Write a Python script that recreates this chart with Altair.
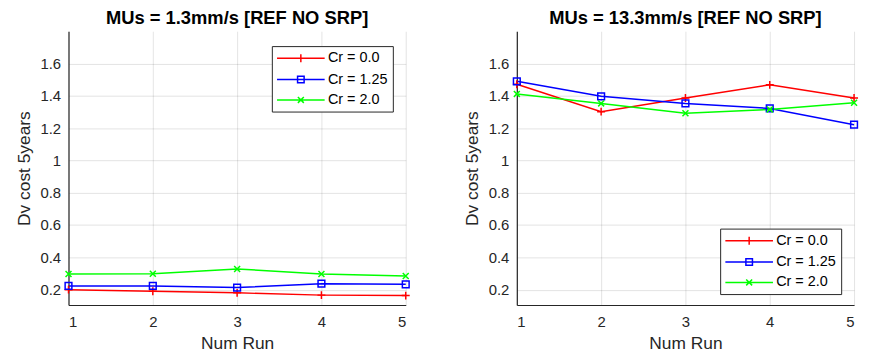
import altair as alt
import pandas as pd

runs = [1, 2, 3, 4, 5]
series_names = ["Cr = 0.0", "Cr = 1.25", "Cr = 2.0"]
series_colors = ["#ff0000", "#0000ff", "#00ff00"]

slow_cr0 = [0.200, 0.190, 0.180, 0.166, 0.163]
slow_cr125 = [0.223, 0.223, 0.213, 0.237, 0.233]
slow_cr2 = [0.297, 0.298, 0.328, 0.297, 0.284]

fast_cr0 = [1.472, 1.302, 1.387, 1.468, 1.387]
fast_cr125 = [1.490, 1.397, 1.353, 1.322, 1.221]
fast_cr2 = [1.412, 1.353, 1.292, 1.316, 1.357]

titles = ["MUs = 1.3mm/s [REF NO SRP]", "MUs = 13.3mm/s [REF NO SRP]"]
y_ticks = [0.2, 0.4, 0.6, 0.8, 1.0, 1.2, 1.4, 1.6]

FONT = "Liberation Sans"

# marker shapes (plot) and line+marker shapes (legend)
marker_paths = [
    "M-1,0H1M0,-1V1",
    "M-0.85,-0.85H0.85V0.85H-0.85Z",
    "M-0.75,-0.75L0.75,0.75M-0.75,0.75L0.75,-0.75",
]
legend_paths = [
    "M-4,0H4M0,-0.67V0.67",
    "M-4,0H4M-0.55,-0.55H0.55V0.55H-0.55Z",
    "M-4,0H4M-0.5,-0.5L0.5,0.5M-0.5,0.5L0.5,-0.5",
]

PW, PH = 340, 276


def make_df(vals):
    rows = []
    for name, ys in zip(series_names, vals):
        for r, v in zip(runs, ys):
            rows.append({"run": r, "value": v, "series": name})
    return pd.DataFrame(rows)


def panel(df, title, leg_x, leg_y):
    base = alt.Chart(df)
    x = alt.X("run:Q", scale=alt.Scale(domain=[1, 5], nice=False, zero=False),
              axis=alt.Axis(values=runs, format="d", title="Num Run",
                            labelPadding=10, titlePadding=4.5))
    y = alt.Y("value:Q", scale=alt.Scale(domain=[0.105, 1.8], nice=False, zero=False),
              axis=alt.Axis(values=y_ticks, format="~g", title="Dv cost 5years",
                            labelPadding=8, titlePadding=6.5))
    cscale = alt.Scale(domain=series_names, range=series_colors)
    lines = base.mark_line(strokeWidth=1.5).encode(
        x=x, y=y,
        color=alt.Color("series:N", scale=cscale, legend=None),
        detail="series:N",
    )
    points = base.mark_point(filled=False, strokeWidth=1.5, size=64, opacity=1).encode(
        x=x, y=y,
        color=alt.Color("series:N", scale=cscale, legend=None),
        shape=alt.Shape("series:N", scale=alt.Scale(domain=series_names, range=marker_paths), legend=None),
    )
    leg = alt.Legend(
        title=None, orient="none", legendX=leg_x, legendY=leg_y,
        strokeColor="#262626", fillColor="white", padding=5, cornerRadius=0,
        labelFont=FONT, labelFontSize=14.5, labelColor="#000000",
        symbolSize=144, symbolStrokeWidth=1.5, symbolOffset=17, labelOffset=20,
        rowPadding=5.5, symbolFillColor="transparent",
    )
    legend_layer = base.mark_point(filled=False, strokeWidth=1.5, size=144, opacity=1).encode(
        x=x, y=y,
        color=alt.Color("series:N", scale=cscale, legend=leg),
        shape=alt.Shape("series:N", scale=alt.Scale(domain=series_names, range=legend_paths), legend=leg),
    ).transform_filter("false")
    return alt.layer(lines, points, legend_layer).resolve_scale(
        color="independent", shape="independent"
    ).properties(
        width=PW, height=PH,
        title=alt.Title(title, fontSize=18.5, fontWeight="bold", font=FONT, color="#000000", offset=3.5),
    )


left = panel(make_df([slow_cr0, slow_cr125, slow_cr2]), titles[0], 205, 15)
right = panel(make_df([fast_cr0, fast_cr125, fast_cr2]), titles[1], 205, 199)

chart = alt.hconcat(left, right, spacing=51).resolve_scale(
    color="independent", shape="independent"
).properties(
    padding={"left": 7, "top": 0, "right": 0, "bottom": 0},
    background="white",
).configure_view(stroke=None).configure_axis(
    labelFont=FONT, titleFont=FONT, labelFontSize=15, titleFontSize=17.5,
    titleFontWeight="normal", labelColor="#262626", titleColor="#262626",
    domainColor="#262626", domainWidth=1.2, ticks=False,
    gridColor="#262626", gridOpacity=0.13, gridWidth=1,
)

chart.save("out.html", embed_options={"renderer": "svg", "actions": False})
